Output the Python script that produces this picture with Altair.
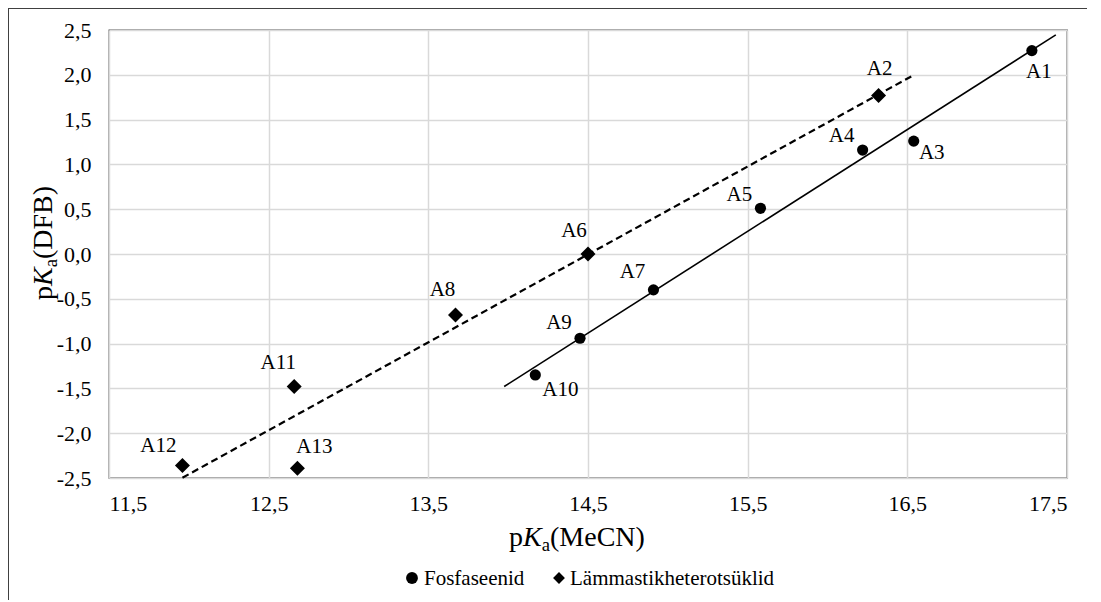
import altair as alt
import pandas as pd

# ---- data ----
series_names = ["Fosfaseenid", "Lämmastikheterotsüklid"]

fos_labels = ["A1", "A3", "A4", "A5", "A7", "A9", "A10"]
fos_x = [17.28, 16.54, 16.22, 15.58, 14.91, 14.45, 14.17]
fos_y = [2.27, 1.26, 1.16, 0.51, -0.40, -0.94, -1.35]

het_labels = ["A2", "A6", "A8", "A11", "A12", "A13"]
het_x = [16.32, 14.50, 13.67, 12.66, 11.96, 12.68]
het_y = [1.77, 0.00, -0.68, -1.48, -2.36, -2.39]

fos_trend_extent = [13.975, 17.43]
het_trend_extent = [11.96, 16.53]

x_ticks = [11.5, 12.5, 13.5, 14.5, 15.5, 16.5, 17.5]
y_ticks = [-2.5, -2.0, -1.5, -1.0, -0.5, 0.0, 0.5, 1.0, 1.5, 2.0, 2.5]

# ---- styling ----
FONT = "Liberation Serif"
W, H = 958, 448
PAD = {"left": 101, "top": 22, "right": 20, "bottom": 122}
shape_range = ["circle", "diamond"]
size_range = [125, 225]
LBL = 21

label_offsets = {
    "A1": (7, 21), "A2": (1, -26), "A3": (18, 12), "A4": (-21, -14),
    "A5": (-21, -13), "A6": (-14, -23), "A7": (-21, -18), "A8": (-13, -25),
    "A9": (-21, -15), "A10": (25, 15), "A11": (-16, -24), "A12": (-24, -19),
    "A13": (17, -21),
}
# legend item positions (symbol centre x, text start x) in plot pixels
legend_pos = {series_names[0]: (303, 315), series_names[1]: (450, 461)}
legend_y = 548

df = pd.DataFrame({
    "label": fos_labels + het_labels,
    "x": fos_x + het_x,
    "y": fos_y + het_y,
    "series": [series_names[0]] * len(fos_labels) + [series_names[1]] * len(het_labels),
})

fmt = "(datum.value < 0 ? '-' : '') + replace(format(abs(datum.value), '.1f'), '.', ',')"

xs = alt.X("x:Q", scale=alt.Scale(domain=[11.5, 17.5], nice=False, zero=False),
           axis=alt.Axis(values=x_ticks, labelExpr=fmt, title=None, ticks=False,
                         domain=False, labelPadding=15))
ys = alt.Y("y:Q", scale=alt.Scale(domain=[-2.5, 2.5], nice=False, zero=False),
           axis=alt.Axis(values=y_ticks, labelExpr=fmt, title=None, ticks=False,
                         domain=False, labelPadding=18))

shape_enc = alt.Shape("series:N", scale=alt.Scale(domain=series_names, range=shape_range), legend=None)

base = alt.Chart(df)

fos_line = base.transform_filter(alt.datum.series == series_names[0]).transform_regression(
    "x", "y", extent=fos_trend_extent
).mark_line(color="black", strokeWidth=1.6).encode(x=xs, y=ys)

het_line = base.transform_filter(alt.datum.series == series_names[1]).transform_regression(
    "x", "y", extent=het_trend_extent
).mark_line(color="black", strokeWidth=2.2, strokeDash=[7, 4]).encode(x=xs, y=ys)

points = base.mark_point(filled=True, opacity=1, color="black").encode(
    x=xs, y=ys,
    shape=shape_enc,
    size=alt.Size("series:N", scale=alt.Scale(domain=series_names, range=size_range), legend=None),
)

label_layers = []
for lab in fos_labels + het_labels:
    dx, dy = label_offsets[lab]
    label_layers.append(
        base.transform_filter(alt.datum.label == lab).mark_text(
            font=FONT, fontSize=LBL, color="black", dx=dx, dy=dy, align="center", baseline="middle"
        ).encode(x=xs, y=ys, text="label:N")
    )

# manual legend built from the series names
leg_df = pd.DataFrame({"series": series_names})
legend_layers = []
for name in series_names:
    sx, tx = legend_pos[name]
    sub = alt.Chart(leg_df).transform_filter(alt.datum.series == name)
    legend_layers.append(
        sub.mark_point(filled=True, opacity=1, color="black", size=140).encode(
            x=alt.value(sx), y=alt.value(legend_y), shape=shape_enc)
    )
    legend_layers.append(
        sub.mark_text(font=FONT, fontSize=LBL, color="black", align="left", baseline="middle").encode(
            x=alt.value(tx), y=alt.value(legend_y + 1), text="series:N")
    )

one = pd.DataFrame({"k": [0]})

def txt(t, x, y, size=28, style="normal", angle=0):
    kw = dict(font=FONT, fontSize=size, color="black", align="left", baseline="alphabetic",
              fontStyle=style)
    if angle:
        kw["angle"] = angle
    return alt.Chart(one).mark_text(**kw).encode(x=alt.value(x), y=alt.value(y), text=alt.value(t))

# x title: p K_a (MeCN)
x_title = [
    txt("p", 400, 516),
    txt("K", 414, 516, style="italic"),
    txt("a", 432.7, 521, size=18.7),
    txt("(MeCN)", 441, 516),
]
# y title rotated
y_title = [
    txt("p", -57, 270, angle=270),
    txt("K", -57, 256, style="italic", angle=270),
    txt("a", -52, 237.3, size=18.7, angle=270),
    txt("(DFB)", -57, 229, angle=270),
]

frame_top = alt.Chart(one).mark_rule(color="#404040", strokeWidth=1).encode(
    x=alt.value(-101), x2=alt.value(W + PAD["right"]), y=alt.value(-21.5))
frame_left = alt.Chart(one).mark_rule(color="#404040", strokeWidth=1).encode(
    x=alt.value(-100.5), y=alt.value(-22), y2=alt.value(H + PAD["bottom"]))

chart = alt.layer(
    fos_line, het_line, points, *label_layers, *legend_layers, *x_title, *y_title,
    frame_top, frame_left
).properties(
    width=W, height=H, autosize=alt.AutoSizeParams(type="none"), padding=PAD
).configure_view(
    stroke="#404040", strokeWidth=1.3
).configure_axis(
    labelFont=FONT, labelFontSize=22, labelColor="black",
    gridColor="#d9d9d9", gridWidth=1.5,
)

chart.save("out.html", embed_options={"renderer": "svg", "actions": False})
